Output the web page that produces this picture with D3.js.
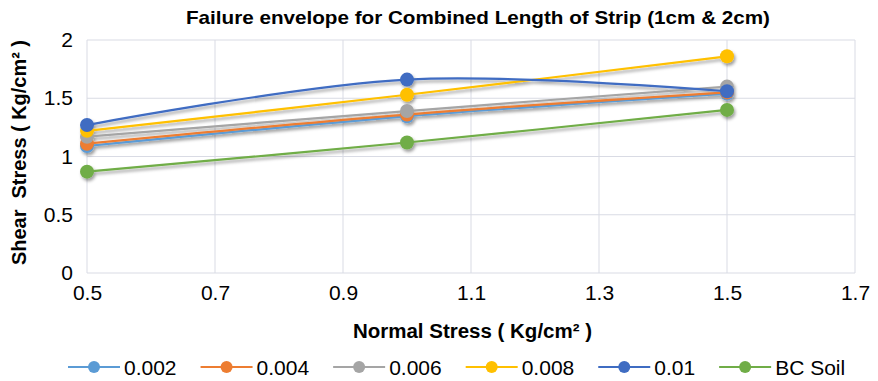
<!DOCTYPE html>
<html>
<head>
<meta charset="utf-8">
<script src="https://cdn.jsdelivr.net/npm/d3@7"></script>
<style>
  html, body { margin: 0; padding: 0; background: #fff; }
  svg { display: block; font-family: "Liberation Sans", Arial, sans-serif; }
</style>
</head>
<body>
<svg id="chart" width="878" height="381"></svg>
<script>
// Normal stress values (x) shared by every series
const normalStress = [0.5, 1.0, 1.5];

// Shear stress for each strip ratio and for the plain BC soil
const s0002 = [1.09, 1.345, 1.54];
const s0004 = [1.11, 1.36, 1.55];
const s0006 = [1.17, 1.39, 1.60];
const s0008 = [1.22, 1.53, 1.86];
const s001  = [1.27, 1.66, 1.56];
const bcSoil = [0.87, 1.12, 1.40];

const seriesNames = ["0.002", "0.004", "0.006", "0.008", "0.01", "BC Soil"];
const seriesColors = ["#5B9BD5", "#ED7D31", "#A5A5A5", "#FFC000", "#3F6CC2", "#70AD47"];

const xTicks = [0.5, 0.7, 0.9, 1.1, 1.3, 1.5, 1.7];
const yTicks = [0, 0.5, 1, 1.5, 2];

const chartTitle = "Failure envelope for Combined Length of Strip (1cm & 2cm)";
const xTitle = "Normal Stress ( Kg/cm\u00B2 )";
const yTitle = "Shear  Stress ( Kg/cm\u00B2 )";

const seriesValues = [s0002, s0004, s0006, s0008, s001, bcSoil];
const series = seriesNames.map((name, i) => ({
  name,
  color: seriesColors[i],
  points: normalStress.map((x, j) => ({ x, y: seriesValues[i][j] }))
}));

const svg = d3.select("#chart");

// Soft drop shadow under lines and markers
const defs = svg.append("defs");
const shadow = defs.append("filter").attr("id", "shadow")
  .attr("x", "-20%").attr("y", "-50%").attr("width", "140%").attr("height", "200%");
shadow.append("feDropShadow")
  .attr("dx", 1.5).attr("dy", 2.5).attr("stdDeviation", 1.8)
  .attr("flood-color", "#000").attr("flood-opacity", 0.38);

const x = d3.scaleLinear().domain([0.5, 1.7]).range([87, 855]);
const y = d3.scaleLinear().domain([0, 2]).range([273, 40]);

// Gridlines
const grid = svg.append("g");
grid.selectAll(".vg").data(xTicks).join("line")
  .attr("x1", d => x(d)).attr("x2", d => x(d))
  .attr("y1", y(2)).attr("y2", y(0))
  .attr("stroke", "#d9dbe4").attr("stroke-width", 1);
grid.selectAll(".hg").data(yTicks).join("line")
  .attr("x1", x(0.5)).attr("x2", x(1.7))
  .attr("y1", d => y(d)).attr("y2", d => y(d))
  .attr("stroke", "#d9dbe4").attr("stroke-width", 1);

// Axes (labels only, no domain line)
const xAxis = svg.append("g").attr("transform", `translate(0,${y(0)})`)
  .call(d3.axisBottom(x).tickValues(xTicks).tickSize(0).tickPadding(12).tickFormat(d3.format(".1f")));
const yAxis = svg.append("g").attr("transform", `translate(${x(0.5)},0)`)
  .call(d3.axisLeft(y).tickValues(yTicks).tickSize(0).tickPadding(14).tickFormat(d => String(d)));
[xAxis, yAxis].forEach(a => {
  a.select(".domain").remove();
  a.selectAll("text").attr("font-size", 21).attr("fill", "#000")
    .attr("font-family", "\"Liberation Sans\", Arial, sans-serif");
});

// Series lines and markers
const line = d3.line().x(d => x(d.x)).y(d => y(d.y)).curve(d3.curveCardinal.tension(0));
const plot = svg.append("g").attr("filter", "url(#shadow)");
series.forEach(s => {
  const g = plot.append("g");
  g.append("path").datum(s.points)
    .attr("d", line).attr("fill", "none")
    .attr("stroke", s.color).attr("stroke-width", 2.2);
  g.selectAll("circle").data(s.points).join("circle")
    .attr("cx", d => x(d.x)).attr("cy", d => y(d.y)).attr("r", 7)
    .attr("fill", s.color);
});

// Titles
svg.append("text").attr("x", 186).attr("y", 24)
  .attr("font-weight", "bold").attr("font-size", 19)
  .attr("textLength", 584).attr("lengthAdjust", "spacingAndGlyphs")
  .text(chartTitle);
svg.append("text").attr("x", 353).attr("y", 338)
  .attr("font-weight", "bold").attr("font-size", 20)
  .attr("textLength", 239).attr("lengthAdjust", "spacingAndGlyphs")
  .text(xTitle);
svg.append("text").attr("transform", "translate(26,265) rotate(-90)")
  .attr("font-weight", "bold").attr("font-size", 20)
  .style("white-space", "pre")
  .attr("textLength", 225).attr("lengthAdjust", "spacingAndGlyphs")
  .text(yTitle);

// Legend
const legend = svg.append("g").attr("transform", "translate(68,367)");
let cursor = 0;
series.forEach(s => {
  const item = legend.append("g").attr("transform", `translate(${cursor},0)`);
  item.append("line").attr("x1", 0).attr("x2", 52).attr("y1", 0).attr("y2", 0)
    .attr("stroke", s.color).attr("stroke-width", 2.2);
  item.append("circle").attr("cx", 26).attr("cy", 0).attr("r", 6).attr("fill", s.color);
  const t = item.append("text").attr("x", 56).attr("y", 8)
    .attr("font-size", 21).attr("fill", "#000").text(s.name);
  cursor += 56 + t.node().getComputedTextLength() + 24;
});
</script>
</body>
</html>
